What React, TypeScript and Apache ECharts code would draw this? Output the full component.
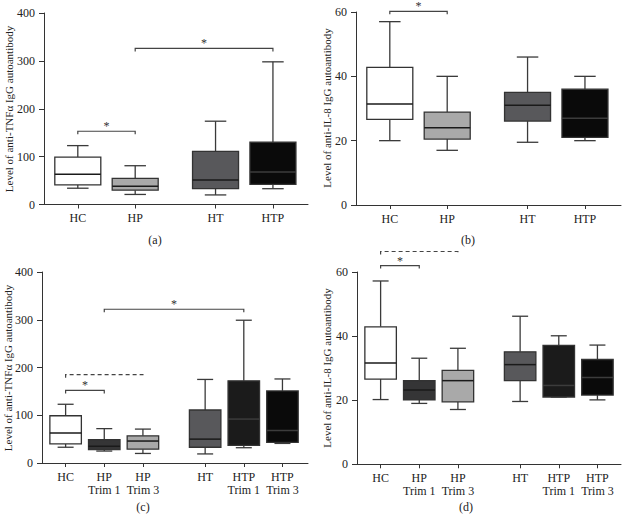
import React, { useEffect, useRef } from 'react';
import * as echarts from 'echarts';

const CATS_AB = ['HC', 'HP', 'HT', 'HTP'];
const CATS_CD = ['HC', 'HP\nTrim 1', 'HP\nTrim 3', 'HT', 'HTP\nTrim 1', 'HTP\nTrim 3'];

// box statistics: [min, Q1, median, Q3, max]
const TNF_AB = [
  [34, 41, 63, 99, 123],
  [21, 30, 38, 54.5, 81],
  [20, 33, 51, 111, 174],
  [33, 42, 68, 130, 298],
];
const IL8_AB = [
  [20, 26.6, 31.4, 42.8, 57],
  [17, 20.5, 24, 28.9, 40],
  [19.5, 26.1, 31, 35, 46],
  [20, 21, 27, 36, 40],
];
const TNF_CD = [
  [33, 40, 63, 99, 123],
  [25, 28, 35, 49, 72],
  [20, 29, 46, 57, 71],
  [19, 33, 50, 111, 175],
  [32, 37, 92, 172, 299],
  [41, 43, 68, 151, 176],
];
const IL8_CD = [
  [20.2, 26.6, 31.6, 42.9, 57.2],
  [19, 20.1, 23.2, 26.1, 33.1],
  [17.1, 19.5, 26.1, 29.3, 36.2],
  [19.6, 26.1, 31.1, 35.1, 46.2],
  [21, 21, 24.6, 37.1, 40.1],
  [20.1, 21.6, 27.1, 32.7, 37.2],
];

// significance brackets: [fromGroup, toGroup, level, dashed, star]
const BR_A = [[0, 1, 153, 0, 1], [1, 3, 326, 0, 1]];
const BR_B = [[0, 1, 60.2, 0, 1]];
const BR_C = [[0, 1, 152, 0, 1], [0, 2, 185, 1, 0], [1, 4, 322, 0, 1]];
const BR_D = [[0, 1, 62, 0, 1], [0, 2, 66.4, 1, 0]];

const TNF_MAX = 400, TNF_STEP = 100;
const IL8_MAX = 60, IL8_STEP = 20;

const NAME_TNF = 'Level of anti-TNFα IgG autoantibody';
const NAME_IL8 = 'Level of anti-IL-8 IgG autoantibody';

// layout (group positions along x in axis units)
const POS_AB = [1, 2, 3.4, 4.4];
const POS_CD = [1, 2, 3, 4.61, 5.61, 6.61];

const COLORS_AB = ['#ffffff', '#a9a9a9', '#58585b', '#0a0a0a'];
const COLORS_CD = ['#ffffff', '#353536', '#a9a9a9', '#58585b', '#1b1b1b', '#0a0a0a'];

const SERIF = '"Liberation Serif", "DejaVu Serif", serif';
const AX = '#333333';
const TXT = '#222222';

const PANELS = [
  { left: 44, top: 13, width: 264, height: 191.5, xmin: 0.411, xmax: 5.011, pos: POS_AB, cats: CATS_AB, stats: TNF_AB, colors: COLORS_AB, br: BR_A, ymax: TNF_MAX, ystep: TNF_STEP, boxW: 46, capW: 21.5, name: NAME_TNF, nameX: 9, nameY: 109, tag: '(a)', tagX: 155, tagY: 240 },
  { left: 356, top: 12, width: 265, height: 193, xmin: 0.411, xmax: 5.028, pos: POS_AB, cats: CATS_AB, stats: IL8_AB, colors: COLORS_AB, br: BR_B, ymax: IL8_MAX, ystep: IL8_STEP, boxW: 46, capW: 21.5, name: NAME_IL8, nameX: 327, nameY: 108, tag: '(b)', tagX: 468, tagY: 240 },
  { left: 42, top: 272, width: 266, height: 191, xmin: 0.389, xmax: 7.271, pos: POS_CD, cats: CATS_CD, stats: TNF_CD, colors: COLORS_CD, br: BR_C, ymax: TNF_MAX, ystep: TNF_STEP, boxW: 31.5, capW: 16, name: NAME_TNF, nameX: 8, nameY: 368, tag: '(c)', tagX: 143, tagY: 507 },
  { left: 357, top: 272, width: 264, height: 192.3, xmin: 0.389, xmax: 7.22, pos: POS_CD, cats: CATS_CD, stats: IL8_CD, colors: COLORS_CD, br: BR_D, ymax: IL8_MAX, ystep: IL8_STEP, boxW: 31.5, capW: 16, name: NAME_IL8, nameX: 327, nameY: 368, tag: '(d)', tagX: 466, tagY: 507 },
];

function buildOption() {
  const grid = PANELS.map((p) => ({
    left: p.left, top: p.top, width: p.width, height: p.height,
    containLabel: false, outerBoundsMode: 'none',
  }));
  const xAxis = PANELS.map((p, i) => ({
    type: 'value', gridIndex: i, min: p.xmin, max: p.xmax,
    splitLine: { show: false },
    axisLine: { show: true, onZero: false, lineStyle: { color: AX, width: 1 } },
    axisTick: { show: true, customValues: p.pos, length: 4, lineStyle: { color: AX } },
    axisLabel: {
      customValues: p.pos,
      formatter: (v: number) => {
        const k = p.pos.findIndex((q) => Math.abs(q - v) < 1e-6);
        return k >= 0 ? p.cats[k] : '';
      },
      margin: 7, fontFamily: SERIF, fontSize: 12, lineHeight: 13, color: TXT,
    },
  }));
  const yAxis = PANELS.map((p, i) => ({
    type: 'value', gridIndex: i, min: 0, max: p.ymax, interval: p.ystep,
    splitLine: { show: false },
    axisLine: { show: true, onZero: false, lineStyle: { color: AX, width: 1 } },
    axisTick: { show: true, length: 5, lineStyle: { color: AX } },
    axisLabel: { margin: 9, fontFamily: SERIF, fontSize: 12, color: TXT },
  }));
  const series: any[] = [];
  PANELS.forEach((p, i) => {
    series.push({
      type: 'custom', xAxisIndex: i, yAxisIndex: i, silent: true,
      itemStyle: { color: '#333333' },
      data: p.stats.map((s, k) => [p.pos[k], ...s]),
      encode: { x: 0, y: [1, 2, 3, 4, 5] },
      renderItem: (params: any, api: any) => {
        const x = api.value(0);
        const pMin = api.coord([x, api.value(1)]);
        const pQ1 = api.coord([x, api.value(2)]);
        const pMed = api.coord([x, api.value(3)]);
        const pQ3 = api.coord([x, api.value(4)]);
        const pMax = api.coord([x, api.value(5)]);
        const cx = pMed[0];
        const hw = p.boxW / 2, hc = p.capW / 2;
        const fill = p.colors[params.dataIndex];
        const ws = { stroke: '#3a3a3a', lineWidth: 1.3 };
        return {
          type: 'group',
          children: [
            { type: 'line', shape: { x1: cx, y1: pQ3[1], x2: cx, y2: pMax[1] }, style: ws },
            { type: 'line', shape: { x1: cx - hc, y1: pMax[1], x2: cx + hc, y2: pMax[1] }, style: ws },
            { type: 'line', shape: { x1: cx, y1: pQ1[1], x2: cx, y2: pMin[1] }, style: ws },
            { type: 'line', shape: { x1: cx - hc, y1: pMin[1], x2: cx + hc, y2: pMin[1] }, style: ws },
            { type: 'rect', shape: { x: cx - hw, y: pQ3[1], width: 2 * hw, height: pQ1[1] - pQ3[1] }, style: { fill, stroke: '#333333', lineWidth: 1.3 } },
            { type: 'line', shape: { x1: cx - hw, y1: pMed[1], x2: cx + hw, y2: pMed[1] }, style: { stroke: fill === '#0a0a0a' || fill === '#1b1b1b' ? '#3c3c3c' : '#1a1a1a', lineWidth: 1.5 } },
          ],
        };
      },
    });
    series.push({
      type: 'custom', xAxisIndex: i, yAxisIndex: i, silent: true,
      itemStyle: { color: '#444444' },
      data: p.br.map((b) => [p.pos[b[0]], p.pos[b[1]], b[2], b[3]]),
      encode: { x: [0, 1], y: 2 },
      renderItem: (params: any, api: any) => {
        const a = api.coord([api.value(0), api.value(2)]);
        const b = api.coord([api.value(1), api.value(2)]);
        const dashed = api.value(3) === 1;
        return {
          type: 'polyline',
          shape: { points: [[a[0], a[1] + 3], [a[0], a[1]], [b[0], b[1]], [b[0], b[1] + 3]] },
          style: { fill: 'none', stroke: '#444444', lineWidth: 1.2, lineDash: dashed ? [4, 3] : null },
        };
      },
    });
    series.push({
      type: 'scatter', xAxisIndex: i, yAxisIndex: i, silent: true, clip: false,
      symbolSize: 0,
      itemStyle: { color: '#333333', opacity: 0 },
      data: p.br.filter((b) => b[4] === 1).map((b) => [(p.pos[b[0]] + p.pos[b[1]]) / 2, b[2]]),
      label: {
        show: true, formatter: '*', position: 'inside', offset: [0, -5],
        fontFamily: SERIF, fontSize: 12, color: '#333333', opacity: 1,
      },
    });
  });
  const graphic: any[] = [];
  PANELS.forEach((p) => {
    graphic.push({
      type: 'text', x: p.nameX, y: p.nameY, rotation: Math.PI / 2,
      style: { text: p.name, fontFamily: SERIF, fontSize: 11, fill: TXT, align: 'center', verticalAlign: 'middle' },
    });
    graphic.push({
      type: 'text', x: p.tagX, y: p.tagY,
      style: { text: p.tag, fontFamily: SERIF, fontSize: 12, fill: TXT, align: 'center', verticalAlign: 'middle' },
    });
  });
  return { animation: false, backgroundColor: '#ffffff', grid, xAxis, yAxis, series, graphic };
}

export default function App() {
  const ref = useRef<HTMLDivElement>(null);
  useEffect(() => {
    if (!ref.current) return;
    const chart = echarts.init(ref.current, undefined, { renderer: 'svg' });
    chart.setOption(buildOption() as any);
    return () => chart.dispose();
  }, []);
  return <div ref={ref} style={{ position: 'absolute', left: 0, top: 0, width: 622, height: 517 }} />;
}
